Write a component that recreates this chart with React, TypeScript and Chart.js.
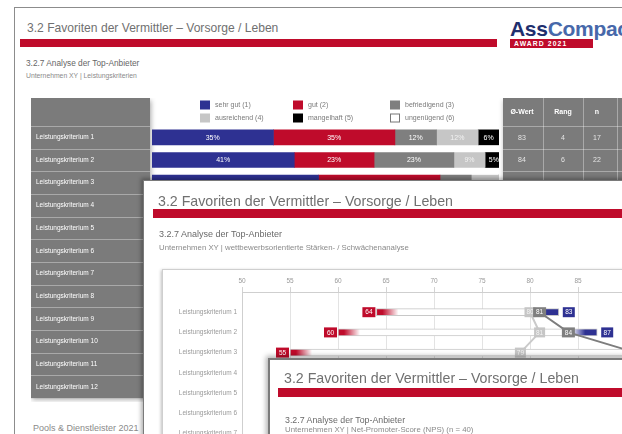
import React, { useEffect, useRef } from 'react';
import { Chart, registerables } from 'chart.js';

Chart.register(...registerables);

const FONT = '"Liberation Sans", Arial, Helvetica, sans-serif';
Chart.defaults.font.family = FONT;

const RED = '#bf0b2b';
const BLUE = '#2e3192';
const DGRAY = '#7f7f7f';
const LGRAY = '#c6c6c6';
const COLGRAY = '#7b7b7b';

// ---------- Page 1: Leistungskriterien (stacked grades) ----------
const criteria = [
  'Leistungskriterium 1', 'Leistungskriterium 2', 'Leistungskriterium 3', 'Leistungskriterium 4',
  'Leistungskriterium 5', 'Leistungskriterium 6', 'Leistungskriterium 7', 'Leistungskriterium 8',
  'Leistungskriterium 9', 'Leistungskriterium 10', 'Leistungskriterium 11', 'Leistungskriterium 12',
];
const gradeLabels = ['sehr gut (1)', 'gut (2)', 'befriedigend (3)', 'ausreichend (4)', 'mangelhaft (5)', 'ungenügend (6)'];
const gradeColors = [BLUE, RED, DGRAY, LGRAY, '#000000', '#ffffff'];
const sehrGut = [35, 41, 48];
const gut = [35, 23, 35];
const befriedigend = [12, 23, 9];
const ausreichend = [12, 9, 8];
const mangelhaft = [6, 5, 0];
const ungenuegend = [0, 0, 0];
const tableHeads = ['Ø-Wert', 'Rang', 'n'];
const avgScore = [83, 84];
const rank = [4, 6];
const respondents = [17, 22];

// ---------- Page 2: Stärken- / Schwächenanalyse ----------
const axisMin = 50;
const axisMax = 95;
const axisStep = 5;
const competitorMin = [64, 60, 55];
const competitorMax = [83, 87, 93];
const marketAvg = [80, 81, 79];
const companyXY = [81, 84, 91];

// canvas 1 placement (page coordinates)
const C1X = 31;
const C1Y = 98;
const C1W = 650;
const C1H = 304;
// canvas 2 placement
const C2X = 162;
const C2Y = 269;
const C2W = 560;
const C2H = 300;

const page1Plugin = {
  id: 'page1Decor',
  beforeDraw(chart: any) {
    const { ctx, scales } = chart;
    const y = scales.y;
    const step = y.getPixelForValue(1) - y.getPixelForValue(0);
    const firstTop = y.getPixelForValue(0) - step / 2;
    const bottom = y.getPixelForValue(criteria.length - 1) + step / 2;
    const leftR = 150 - C1X;
    const tabL = 503 - C1X;
    ctx.save();
    ctx.shadowColor = 'rgba(0,0,0,0.35)';
    ctx.shadowBlur = 5;
    ctx.shadowOffsetX = 1;
    ctx.shadowOffsetY = 2;
    ctx.fillStyle = COLGRAY;
    ctx.fillRect(0, 0, leftR, bottom);
    ctx.fillRect(tabL, 0, chart.width - tabL, bottom);
    ctx.restore();
    ctx.save();
    ctx.strokeStyle = 'rgba(255,255,255,0.35)';
    ctx.lineWidth = 1;
    for (let k = 0; k < criteria.length; k++) {
      const yy = Math.round(firstTop + k * step) + 0.5;
      ctx.beginPath();
      ctx.moveTo(0, yy);
      ctx.lineTo(leftR, yy);
      ctx.moveTo(tabL, yy);
      ctx.lineTo(chart.width, yy);
      ctx.stroke();
    }
    [543, 583, 617].forEach((px) => {
      const xx = px - C1X + 0.5;
      ctx.beginPath();
      ctx.moveTo(xx, 0);
      ctx.lineTo(xx, bottom);
      ctx.stroke();
    });
    ctx.restore();
  },
  afterDatasetsDraw(chart: any) {
    const { ctx } = chart;
    ctx.save();
    ctx.font = `7px ${FONT}`;
    ctx.textAlign = 'center';
    ctx.textBaseline = 'middle';
    chart.data.datasets.forEach((ds: any, di: number) => {
      const meta = chart.getDatasetMeta(di);
      meta.data.forEach((el: any, i: number) => {
        const v = ds.data[i];
        if (!v) return;
        const cx = (el.x + el.base) / 2;
        ctx.fillStyle = di === 3 ? '#f2f2f2' : '#ffffff';
        ctx.fillText(`${v}%`, cx, el.y + 0.5);
      });
    });
    ctx.restore();
  },
  afterDraw(chart: any) {
    const { ctx, scales } = chart;
    const y = scales.y;
    ctx.save();
    // legend
    const sqX = [200, 293, 390];
    const rowY = [105, 118];
    ctx.font = `7px ${FONT}`;
    ctx.textBaseline = 'middle';
    ctx.textAlign = 'left';
    chart.data.datasets.forEach((ds: any, i: number) => {
      const col = i % 3;
      const row = Math.floor(i / 3);
      const x = sqX[col] - C1X;
      const yy = rowY[row] - C1Y;
      ctx.fillStyle = ds.backgroundColor;
      ctx.fillRect(x, yy - 4.5, 10, 9);
      if (ds.backgroundColor === '#ffffff') {
        ctx.strokeStyle = '#777';
        ctx.lineWidth = 1;
        ctx.strokeRect(x + 0.5, yy - 4, 9, 8);
      }
      ctx.fillStyle = '#7a7a7a';
      ctx.fillText(ds.label, x + 15, yy + 0.5);
    });
    // table
    const colC = [522, 563, 597];
    ctx.textAlign = 'center';
    ctx.fillStyle = '#ffffff';
    ctx.font = `bold 7px ${FONT}`;
    tableHeads.forEach((h, i) => ctx.fillText(h, colC[i] - C1X, 112 - C1Y));
    ctx.font = `7px ${FONT}`;
    ctx.fillStyle = '#e4e4e4';
    avgScore.forEach((v, i) => {
      const yy = y.getPixelForValue(i) + 0.5;
      ctx.fillText(String(v), colC[0] - C1X, yy);
      ctx.fillText(String(rank[i]), colC[1] - C1X, yy);
      ctx.fillText(String(respondents[i]), colC[2] - C1X, yy);
    });
    ctx.restore();
  },
};

const page2Plugin = {
  id: 'page2Boxes',
  afterDatasetsDraw(chart: any) {
    const { ctx, scales } = chart;
    const { x, y } = scales;
    ctx.save();
    ctx.font = `6.5px ${FONT}`;
    ctx.textAlign = 'center';
    ctx.textBaseline = 'middle';
    const box = (left: number, cy: number, w: number, fill: string, txt: string, tc: string) => {
      ctx.fillStyle = fill;
      ctx.fillRect(left, cy - 5, w, 10);
      ctx.fillStyle = tc;
      ctx.fillText(txt, left + w / 2, cy + 0.5);
    };
    competitorMin.forEach((mn, i) => {
      const cy = y.getPixelForValue(i + 1);
      box(x.getPixelForValue(mn) - 14, cy, 13, RED, String(mn), '#fff');
      box(x.getPixelForValue(competitorMax[i]) + 4, cy, 12, BLUE, String(competitorMax[i]), '#fff');
      box(x.getPixelForValue(marketAvg[i]) - 5.5, cy, 11, LGRAY, String(marketAvg[i]), '#f4f4f4');
      box(x.getPixelForValue(companyXY[i]) - 6.5, cy, 13, DGRAY, String(companyXY[i]), '#fff');
    });
    ctx.restore();
  },
};

const rangeGradient = (c: any) => {
  const chart = c.chart;
  const xs = chart.scales && chart.scales.x;
  const raw = c.raw;
  if (!xs || !raw || !Array.isArray(raw.x)) return '#ffffff';
  const p0 = xs.getPixelForValue(raw.x[0]);
  const p1 = xs.getPixelForValue(raw.x[1]);
  const L = p1 - p0;
  if (!isFinite(p0) || !isFinite(p1) || L <= 0) return '#ffffff';
  const f = (px: number) => Math.min(1, Math.max(0, px / L));
  const g = chart.ctx.createLinearGradient(p0, 0, p1, 0);
  g.addColorStop(0, RED);
  g.addColorStop(f(6), RED);
  g.addColorStop(f(22), '#ffffff');
  g.addColorStop(f(L - 26), '#ffffff');
  g.addColorStop(f(L - 12), BLUE);
  g.addColorStop(1, BLUE);
  return g;
};

const bl = (baseline: number, fs: number) => baseline - 0.8465 * fs;

const txt = (left: number, baseline: number, fs: number, color: string, extra: any = {}) => ({
  position: 'absolute' as const,
  left,
  top: bl(baseline, fs),
  fontSize: fs,
  lineHeight: 1,
  color,
  whiteSpace: 'nowrap' as const,
  fontFamily: FONT,
  ...extra,
});

const box = (left: number, top: number, width: number, height: number, extra: any = {}) => ({
  position: 'absolute' as const,
  left,
  top,
  width,
  height,
  ...extra,
});

export default function App() {
  const c1 = useRef<HTMLCanvasElement>(null);
  const c2 = useRef<HTMLCanvasElement>(null);

  useEffect(() => {
    const series = [sehrGut, gut, befriedigend, ausreichend, mangelhaft, ungenuegend];
    const chart1 = new Chart(c1.current as HTMLCanvasElement, {
      type: 'bar',
      data: {
        labels: criteria,
        datasets: gradeLabels.map((label, i) => ({
          label,
          data: series[i],
          backgroundColor: gradeColors[i],
          borderWidth: 0,
          barThickness: 15,
        })),
      },
      options: {
        indexAxis: 'y',
        responsive: false,
        animation: false,
        devicePixelRatio: 1,
        layout: { padding: { left: 5, right: C1W - (499 - C1X), top: 126 - C1Y, bottom: C1H - (126 - C1Y) - 273.6 } },
        plugins: { legend: { display: false }, tooltip: { enabled: false } },
        scales: {
          x: { stacked: true, min: 0, max: 100, display: false },
          y: {
            stacked: true,
            grid: { display: false },
            border: { display: false },
            ticks: { color: '#ffffff', font: { size: 6.5, family: FONT }, crossAlign: 'far', padding: 0, autoSkip: false },
            afterFit: (s: any) => { s.width = 116; },
          },
        },
      } as any,
      plugins: [page1Plugin],
    });

    const chart2 = new Chart(c2.current as HTMLCanvasElement, {
      type: 'bar',
      data: {
        datasets: [
          {
            type: 'line',
            label: 'Unternehmen XY',
            data: companyXY.map((v, i) => ({ x: v, y: i + 1 })),
            borderColor: '#7d7d7d',
            borderWidth: 2,
            pointRadius: 0,
          },
          {
            type: 'line',
            label: 'Ø Markt',
            data: marketAvg.map((v, i) => ({ x: v, y: i + 1 })),
            borderColor: '#cacaca',
            borderWidth: 2,
            pointRadius: 0,
          },
          {
            type: 'bar',
            label: 'Spanne Wettbewerb',
            data: competitorMin.map((v, i) => ({ x: [v, competitorMax[i]], y: i + 1 })),
            barThickness: 7,
            borderColor: '#c8c8c8',
            borderWidth: 1,
            borderSkipped: false,
            backgroundColor: rangeGradient,
          },
        ] as any,
      },
      options: {
        indexAxis: 'y',
        responsive: false,
        animation: false,
        devicePixelRatio: 1,
        layout: { padding: { left: 0, right: C2W - (axisMax - axisMin) * 9.6 - 80, top: 8, bottom: C2H - 23 - 13 * 20.2 } },
        plugins: { legend: { display: false }, tooltip: { enabled: false } },
        scales: {
          x: {
            type: 'linear',
            position: 'top',
            min: axisMin,
            max: axisMax,
            ticks: { stepSize: axisStep, color: '#9a9a9a', font: { size: 6.5, family: FONT }, padding: 2 },
            grid: { color: '#e3e3e3', tickLength: 5, tickColor: '#d3d3d3' },
            border: { color: '#cfcfcf' },
            afterFit: (s: any) => { s.height = 15; },
          },
          y: {
            type: 'linear',
            reverse: true,
            min: 0,
            max: 13,
            offset: false,
            ticks: {
              stepSize: 1,
              autoSkip: false,
              color: '#9a9a9a',
              font: { size: 6.5, family: FONT },
              padding: 5,
              callback: (v: any) => (Number.isInteger(v) && v >= 1 && v <= criteria.length ? criteria[v - 1] : ''),
            },
            grid: { display: false, drawTicks: false },
            border: { display: true, color: '#cfcfcf' },
            afterFit: (s: any) => { s.width = 80; },
          },
        },
      } as any,
      plugins: [page2Plugin],
    });

    return () => {
      chart1.destroy();
      chart2.destroy();
    };
  }, []);

  const title = '3.2 Favoriten der Vermittler – Vorsorge / Leben';
  const sub = '3.2.7 Analyse der Top-Anbieter';

  return (
    <div style={{ position: 'fixed', left: 0, top: 0, width: 622, height: 434, overflow: 'hidden', background: '#fff', fontFamily: FONT }}>
      {/* ---------- Page 1 ---------- */}
      <div style={box(14, 7, 760, 520, { borderLeft: '1.5px solid #8c8c8c', borderTop: '1.5px solid #8c8c8c', background: '#fff' })} />
      <div style={txt(27, 32, 13, '#707070', { transform: 'scaleX(0.93)', transformOrigin: 'left center' })}>{title}</div>
      <div style={box(20, 39, 477, 8, { background: RED })} />
      <div style={txt(510, 35.5, 21, '#1f2f6e', { fontWeight: 'bold', letterSpacing: -0.3 })}>
        Ass<span style={{ color: '#4768aa' }}>Compact</span>
      </div>
      <div style={box(510, 39, 83, 9, { background: RED })} />
      <div style={txt(514, 46.3, 6.8, '#ffffff', { fontWeight: 'bold', letterSpacing: 1.1 })}>AWARD 2021</div>
      <div style={txt(26, 66, 8.3, '#666666')}>{sub}</div>
      <div style={txt(26, 78.5, 6.8, '#8a8a8a')}>Unternehmen XY | Leistungskriterien</div>
      <canvas ref={c1} width={C1W} height={C1H} style={box(C1X, C1Y, C1W, C1H)} />
      <div style={txt(33, 432, 9, '#8a8a8a')}>Pools &amp; Dienstleister 2021</div>

      {/* ---------- Page 2 ---------- */}
      <div style={box(143, 180, 700, 400, { borderLeft: '1.5px solid #7a7a7a', borderTop: '1.5px solid #7a7a7a', background: '#fff', boxShadow: '-2px -2px 4px rgba(0,0,0,0.3)' })} />
      <div style={txt(158, 206, 14.2, '#707070')}>{title}</div>
      <div style={box(153, 209, 600, 9, { background: RED })} />
      <div style={txt(159, 238, 9, '#6a6a6a')}>{sub}</div>
      <div style={txt(159, 250.5, 7.8, '#8a8a8a')}>Unternehmen XY | wettbewerbsorientierte Stärken- / Schwächenanalyse</div>
      <div style={box(162, 269, 600, 300, { border: '1px solid #cfcfcf', boxShadow: '-1px 1px 3px rgba(0,0,0,0.25)', background: '#fff' })} />
      <canvas ref={c2} width={C2W} height={C2H} style={box(C2X, C2Y, C2W, C2H)} />

      {/* ---------- Page 3 ---------- */}
      <div style={box(268, 358, 600, 200, { border: '2px solid #7a7a7a', background: '#fff', boxShadow: '-2px -2px 5px rgba(0,0,0,0.3)' })} />
      <div style={txt(284, 383, 14.2, '#707070')}>{title}</div>
      <div style={box(278, 388, 600, 9, { background: RED })} />
      <div style={txt(285, 423, 8.8, '#6a6a6a')}>{sub}</div>
      <div style={txt(285, 433, 7.8, '#8a8a8a')}>Unternehmen XY | Net-Promoter-Score (NPS) (n = 40)</div>
    </div>
  );
}
